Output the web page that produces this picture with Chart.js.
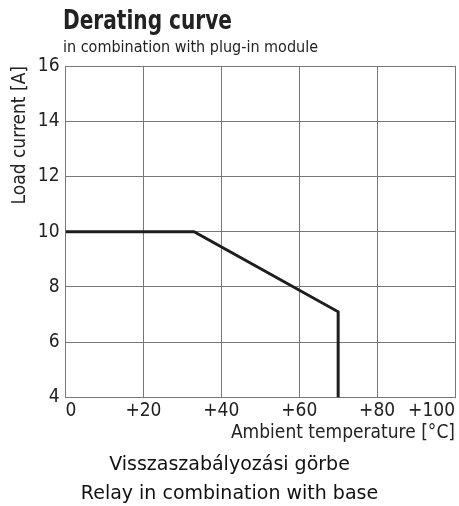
<!DOCTYPE html>
<html>
<head>
<meta charset="utf-8">
<script src="https://cdn.jsdelivr.net/npm/chart.js@4"></script>
<style>
  body { margin: 0; background: #fff; }
  #wrap { position: relative; width: 459px; height: 506px; }
  #chart { position: absolute; left: 0; top: 0; }
  .narrow { font-family: "Liberation Sans Narrow", "DejaVu Sans Condensed", "Roboto Condensed", sans-serif; color: #222; position: absolute; white-space: nowrap; transform-origin: left top; }
  #title { left: 63px; top: 5px; font-size: 26px; font-weight: bold; transform: scaleX(0.86); }
  #subtitle { left: 63px; top: 37px; font-size: 16px; }
  .caption { position: absolute; left: 0; width: 459px; text-align: center; font-family: "DejaVu Sans", sans-serif; font-size: 19px; color: #111; }
</style>
</head>
<body>
<div id="wrap">
  <canvas id="chart" width="459" height="506"></canvas>
  <div id="title" class="narrow">Derating curve</div>
  <div id="subtitle" class="narrow">in combination with plug-in module</div>
  <div class="caption" style="top:452px">Visszaszabályozási görbe</div>
  <div class="caption" style="top:481px">Relay in combination with base</div>
</div>
<script>
const temps = [0, 33, 70, 70];
const currents = [10, 10, 7.1, 4];
const xTicks = [0, 20, 40, 60, 80, 100];
const yTicks = [4, 6, 8, 10, 12, 14, 16];

const narrow = '"Liberation Sans Narrow", "DejaVu Sans Condensed", "Roboto Condensed", sans-serif';

new Chart(document.getElementById('chart'), {
  type: 'line',
  data: {
    datasets: [{
      data: temps.map((t, i) => ({ x: t, y: currents[i] })),
      borderColor: '#1e1e1e',
      borderWidth: 3,
      pointRadius: 0,
      tension: 0
    }]
  },
  options: {
    responsive: false,
    animation: false,
    layout: { padding: { left: 9, right: 4, top: 66, bottom: 62 } },
    plugins: { legend: { display: false }, tooltip: { enabled: false } },
    scales: {
      x: {
        type: 'linear',
        min: 0, max: 100,
        afterBuildTicks: s => { s.ticks = xTicks.map(v => ({ value: v })); },
        grid: { color: '#777', drawTicks: false },
        border: { color: '#777' },
        ticks: {
          align: 'inner',
          padding: 2,
          color: '#222',
          font: { family: narrow, size: 19 },
          callback: v => v === 0 ? '0' : '+' + v
        },
        title: {
          display: true, align: 'end', text: 'Ambient temperature [°C]',
          color: '#222', font: { family: narrow, size: 19 }, padding: { top: -3, bottom: 0 }
        }
      },
      y: {
        min: 4, max: 16,
        afterBuildTicks: s => { s.ticks = yTicks.map(v => ({ value: v })); },
        grid: { color: '#777', drawTicks: false },
        border: { color: '#777' },
        ticks: { padding: 6, color: '#222', font: { family: narrow, size: 19 } },
        title: {
          display: true, align: 'end', text: 'Load current [A]',
          color: '#222', font: { family: narrow, size: 19 }, padding: 0
        }
      }
    }
  }
});
</script>
</body>
</html>
